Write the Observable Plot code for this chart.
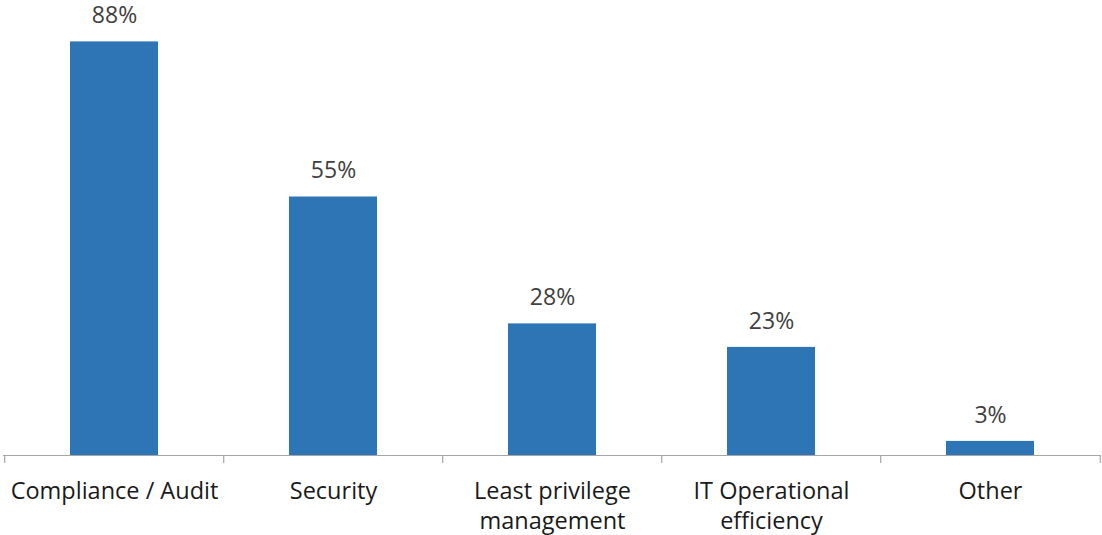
<!DOCTYPE html>
<html>
<head>
<meta charset="utf-8">
<script src="https://cdn.jsdelivr.net/npm/d3@7"></script>
<script src="https://cdn.jsdelivr.net/npm/@observablehq/plot@0.6"></script>
<style>
  html, body { margin: 0; padding: 0; background: #fff; }
  #chart svg { display: block; }
</style>
</head>
<body>
<div id="chart"></div>
<script>
const categories = ["Compliance / Audit", "Security", "Least privilege management", "IT Operational efficiency", "Other"];
const categoryLabels = ["Compliance / Audit", "Security", "Least privilege\nmanagement", "IT Operational\nefficiency", "Other"];
const values = [88, 55, 28, 23, 3];
const valueLabels = ["88%", "55%", "28%", "23%", "3%"];

const data = categories.map((c, i) => ({category: c, value: values[i], label: valueLabels[i], axisLabel: categoryLabels[i]}));

const width = 1102, height = 535;
const marginLeft = 3, marginRight = 1;
const step = (width - marginLeft - marginRight) / categories.length;
const axisColor = "#a6a6a6";

const chart = Plot.plot({
  width, height,
  marginLeft, marginRight,
  marginTop: 32, marginBottom: 80,
  style: {fontFamily: "'Open Sans', sans-serif", background: "#fff"},
  x: {domain: categories, paddingInner: 0.6, paddingOuter: 0.3, axis: null, label: null},
  y: {domain: [0, 90], axis: null},
  marks: [
    Plot.barY(data, {x: "category", y: "value", fill: "#2e75b6"}),
    Plot.ruleY([0], {stroke: axisColor, strokeWidth: 1.2}),
    Plot.axisX({tickSize: 8, dx: -step / 2, stroke: axisColor, tickFormat: () => "", label: null, strokeWidth: 1.2}),
    Plot.axisX({ticks: [categories[categories.length - 1]], tickSize: 8, dx: step / 2, stroke: axisColor, tickFormat: () => "", label: null, strokeWidth: 1.2}),
    Plot.text(data, {x: "category", y: "value", text: "label", dy: -26, lineAnchor: "middle", fontSize: 23, fill: "#404040"}),
    Plot.text(data, {x: "category", text: "axisLabel", frameAnchor: "bottom", lineAnchor: "top", dy: 22, fontSize: 23.5, lineHeight: 1.28, fill: "#1a1a1a"})
  ]
});
document.getElementById("chart").appendChild(chart);
</script>
</body>
</html>
